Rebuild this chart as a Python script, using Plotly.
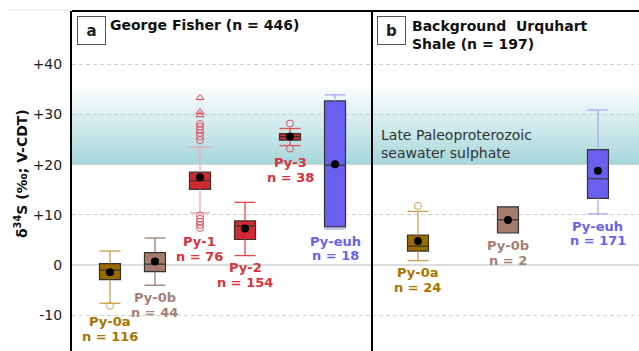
import plotly.graph_objects as go

# ---- data: George Fisher deposit (panel a) ----
groups_a = ["Py-0a", "Py-0b", "Py-1", "Py-2", "Py-3", "Py-euh"]
n_a = [116, 44, 76, 154, 38, 18]
q1_a = [-2.9, -1.3, 15.1, 5.1, 24.9, 7.6]
med_a = [-1.0, 0.2, 16.8, 7.8, 25.6, 19.9]
q3_a = [0.3, 2.5, 18.5, 8.8, 26.2, 32.7]
lo_a = [-7.6, -4.0, 10.4, 1.9, 23.8, 7.2]
hi_a = [2.8, 5.4, 23.5, 12.5, 27.2, 33.9]
mean_a = [-1.4, 0.7, 17.5, 7.3, 25.6, 20.1]

# ---- data: background Urquhart Shale (panel b) ----
groups_b = ["Py-0a", "Py-0b", "Py-euh"]
n_b = [24, 2, 171]
q1_b = [2.8, 6.4, 13.3]
med_b = [3.8, 9.0, 17.2]
q3_b = [6.0, 11.6, 23.0]
lo_b = [0.9, 6.4, 10.2]
hi_b = [10.7, 11.6, 30.9]
mean_b = [4.8, 9.0, 18.8]

# outliers
out_py0a_a = [-8.1]
out_py1_circ = [24.9, 25.6, 26.3, 27.0, 27.6, 28.1, 9.9, 9.2, 8.6, 8.0, 7.4]
out_py1_tri = [29.9, 30.5, 33.3]
out_py3 = [28.2, 23.2]
out_py0a_b = [11.8]

# seawater sulphate band
band_lo, band_hi = 20.0, 36.0

# ---- styling ----
FONT = "DejaVu Sans"
fill = {"Py-0a": "#9b6a00", "Py-0b": "#a67b6f", "Py-1": "#d2282f",
        "Py-2": "#d2282f", "Py-3": "#d2282f", "Py-euh": "#6b5ff0"}
whisk = {"Py-0a": "#c9a04a", "Py-0b": "#9c7a70", "Py-1": "#f0aab0",
         "Py-2": "#e04848", "Py-3": "#e05058", "Py-euh": "#aaa8f5"}
label_col = {"Py-0a": "#a87400", "Py-0b": "#a68075", "Py-1": "#d8323a",
             "Py-2": "#d8323a", "Py-3": "#d8323a", "Py-euh": "#6a62ef"}
# centre of each two-line label, in axis units; lines sit half a line above/below
label_y_a = [-12.7, -8.0, 3.2, -2.0, 19.0, 3.3]
label_y_b = [-2.9, 2.5, 6.3]
LINE_HALF = 1.48

fig = go.Figure()


def add_panel(xaxis, groups, ns, q1, med, q3, lo, hi, mean, bw, label_y):
    for i, g in enumerate(groups):
        hw = bw / 2
        xs, ys = [], []
        if hi[i] > q3[i]:
            xs += [i, i, None, i - hw, i + hw, None]
            ys += [q3[i], hi[i], None, hi[i], hi[i], None]
        if lo[i] < q1[i]:
            xs += [i, i, None, i - hw, i + hw, None]
            ys += [q1[i], lo[i], None, lo[i], lo[i], None]
        if xs:
            fig.add_trace(go.Scatter(x=xs, y=ys, mode="lines", xaxis=xaxis, yaxis="y",
                                     line=dict(color=whisk[g], width=1.3),
                                     showlegend=False, hoverinfo="skip"))
        fig.add_trace(go.Box(x=[i], q1=[q1[i]], median=[med[i]], q3=[q3[i]],
                             lowerfence=[q1[i]], upperfence=[q3[i]],
                             width=bw, whiskerwidth=0, boxpoints=False,
                             fillcolor=fill[g], line=dict(color="#333333", width=1.2),
                             xaxis=xaxis, yaxis="y", showlegend=False))
        for txt, dy in [(g, LINE_HALF), (f"n = {ns[i]}", -LINE_HALF)]:
            fig.add_annotation(x=i, y=label_y[i] + dy, xref=xaxis, yref="y",
                               text=f"<b>{txt}</b>", showarrow=False,
                               font=dict(family=FONT, size=13, color=label_col[g]),
                               xanchor="center", yanchor="middle")
    fig.add_trace(go.Scatter(x=list(range(len(groups))), y=mean, mode="markers",
                             xaxis=xaxis, yaxis="y",
                             marker=dict(color="black", size=8),
                             showlegend=False, hoverinfo="skip"))


def add_outliers(xaxis, pos, vals, color, symbol="circle-open"):
    fig.add_trace(go.Scatter(x=[pos] * len(vals), y=vals, mode="markers",
                             xaxis=xaxis, yaxis="y",
                             marker=dict(symbol=symbol, color=color, size=7,
                                         line=dict(width=1)),
                             showlegend=False, hoverinfo="skip"))


add_panel("x", groups_a, n_a, q1_a, med_a, q3_a, lo_a, hi_a, mean_a, 0.467, label_y_a)
add_panel("x2", groups_b, n_b, q1_b, med_b, q3_b, lo_b, hi_b, mean_b, 0.233, label_y_b)

add_outliers("x", 0, out_py0a_a, "#c9a04a")
add_outliers("x", 2, out_py1_circ, "#e05a64")
add_outliers("x", 2, out_py1_tri, "#e04050", "triangle-up-open")
add_outliers("x", 4, out_py3, "#e05058")
add_outliers("x2", 0, out_py0a_b, "#c9a04a")

# gradient band: overlapping opaque rects, each one running up to the band top,
# so every level shows the colour of the last rect that starts below it
shapes = []
steps = 64
top_rgb = (255, 255, 255)
bot_rgb = (166, 214, 218)
for k in range(steps):
    y0 = band_lo + (band_hi - band_lo) * k / steps
    t = (k + 0.5) / steps
    c = tuple(round(b + (tp - b) * t) for b, tp in zip(bot_rgb, top_rgb))
    shapes.append(dict(type="rect", xref="paper", yref="y", x0=0, x1=1, y0=y0, y1=band_hi,
                       fillcolor=f"rgb{c}", line=dict(width=0), layer="below"))

split = 300 / 567
# frame lines
shapes.append(dict(type="line", xref="paper", yref="paper", x0=0, x1=1, y0=1, y1=1,
                   line=dict(color="black", width=2)))
shapes.append(dict(type="line", xref="paper", yref="paper", x0=split, x1=split, y0=0, y1=1,
                   line=dict(color="black", width=2)))
shapes.append(dict(type="line", xref="paper", yref="paper", x0=-64 / 567, x1=0,
                   y0=1.003, y1=1.003, line=dict(color="#e6e6e6", width=1)))
fig.update_layout(shapes=shapes)

# panel tags and titles
for ax, tag, xd in [("x", "a", 5 / 300), ("x2", "b", 5 / 267)]:
    fig.add_annotation(xref=f"{ax} domain", yref="y domain", x=xd, y=(351 - 16) / 340,
                       xanchor="left", yanchor="top", text=f"<b>{tag}</b>", showarrow=False,
                       width=25, height=25, bordercolor="#555555", borderwidth=1,
                       bgcolor="white", font=dict(family=FONT, size=15, color="#222"))
fig.add_annotation(xref="x domain", yref="paper", x=36 / 300, y=(351 - 25) / 340,
                   xanchor="left", yanchor="middle", showarrow=False,
                   text="<b>George Fisher (n = 446)</b>",
                   font=dict(family=FONT, size=14, color="#111"))
fig.add_annotation(xref="x2 domain", yref="paper", x=38 / 267, y=(351 - 16) / 340,
                   xanchor="left", yanchor="top", showarrow=False, align="left",
                   text="<b>Background  Urquhart<br>Shale (n = 197)</b>",
                   font=dict(family=FONT, size=14, color="#111"))
fig.add_annotation(xref="x2 domain", yref="paper", x=7 / 267, y=(351 - 144) / 340,
                   xanchor="left", yanchor="middle", showarrow=False, align="left",
                   text="Late Paleoproterozoic<br>seawater sulphate",
                   font=dict(family=FONT, size=14, color="#333"))
# y axis title
fig.add_annotation(xref="paper", yref="paper", x=-51 / 567, y=(351 - 174) / 340,
                   xanchor="center", yanchor="middle", showarrow=False, textangle=-90,
                   text="<b>δ<sup>34</sup>S (‰; V-CDT)</b>",
                   font=dict(family=FONT, size=14, color="#111"))

fig.update_layout(
    width=639, height=351,
    margin=dict(l=72, r=0, t=11, b=0),
    paper_bgcolor="white", plot_bgcolor="white",
    xaxis=dict(domain=[0, split], range=[-0.844, 5.822], visible=False),
    xaxis2=dict(domain=[split, 1], range=[-0.511, 2.456], visible=False, anchor="y"),
    yaxis=dict(range=[-17.1, 50.6], tickvals=[-10, 0, 10, 20, 30, 40],
               ticktext=["-10", "0", "+10", "+20", "+30", "+40"],
               showgrid=True, gridcolor="#cfcfcf", gridwidth=1, griddash="4px,3px",
               zeroline=True, zerolinecolor="#dddddd", zerolinewidth=2,
               showline=True, linecolor="black", linewidth=2,
               ticks="", ticklabelstandoff=5,
               tickfont=dict(family=FONT, size=14, color="#222")),
    font=dict(family=FONT),
)

fig.write_html("out.html")
